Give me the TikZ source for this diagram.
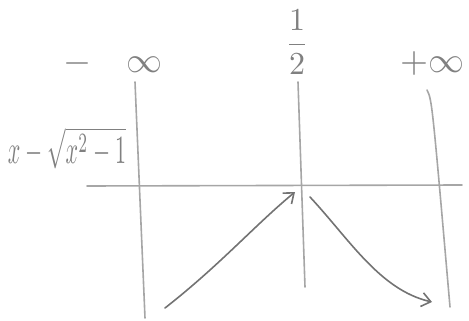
\documentclass[tikz,border=0pt]{standalone}
\usetikzlibrary{arrows.meta}
\begin{document}
\begin{tikzpicture}[x=1pt,y=-1pt,
  pencil/.style={draw=black!35, line width=1.6pt, line cap=round},
  arrowline/.style={pencil, draw=black!55, -{Straight Barb[length=9pt,width=14pt]}},
  lbl/.style={text=black!50, inner sep=0pt, transform shape}]
\useasboundingbox (0,0) rectangle (469,321);
% grid coordinates
\coordinate (v1t) at (135,82);
\coordinate (v1b) at (145,318);
\coordinate (v2t) at (298,82);
\coordinate (v2b) at (305,287);
\coordinate (v3t) at (427,90);
\coordinate (v3b) at (450,307);
\coordinate (hl) at (87,186);
\coordinate (hr) at (462,185);
\draw[pencil] (v1t) -- (v1b);
\draw[pencil] (v2t) -- (v2b);
\draw[pencil] (v3t) .. controls (432,100) .. (v3b);
\draw[pencil] (hl) -- (hr);
% labels
\node[lbl, scale=3.6] (minf) at (113,64) {$-\quad\infty$};
\node[lbl, scale=3.2] (half) at (297,42) {$\displaystyle\frac{1}{2}$};
\node[lbl, scale=3.6] (pinf) at (432,64) {$+\infty$};
\node[lbl, xscale=2.2, yscale=4] (fx) at (67,148) {$x-\sqrt{x^2-1}$};
% variation arrows
\coordinate (a1s) at (165,308);
\coordinate (a1e) at (295,192);
\coordinate (a2s) at (310,197);
\coordinate (a2e) at (432,302);
\draw[arrowline] (a1s) .. controls (220,265) and (255,225) .. (a1e);
\draw[arrowline] (a2s) .. controls (350,240) and (380,290) .. (a2e);
\end{tikzpicture}
\end{document}
